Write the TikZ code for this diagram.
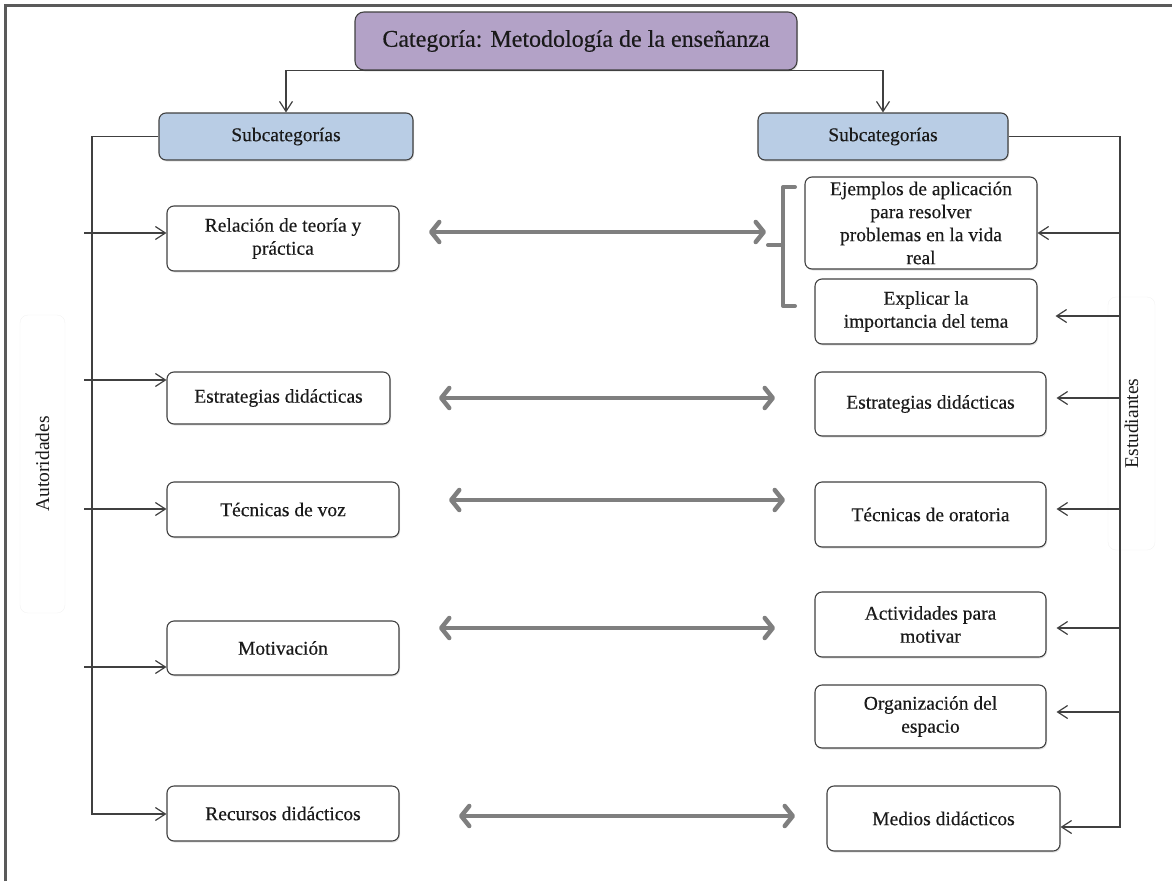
\documentclass[tikz,border=0pt]{standalone}
\usepackage{fontspec}
\setmainfont{Liberation Serif}
\newfontfamily\boxfont{Liberation Serif}[FakeBold=0.35]
\usetikzlibrary{arrows.meta,shadows,calc}
\definecolor{catfill}{HTML}{B3A2C7}
\definecolor{subfill}{HTML}{B9CDE5}
\definecolor{edge}{HTML}{404040}
\definecolor{link}{HTML}{7F7F7F}
\definecolor{ink}{HTML}{1A1A1A}
\definecolor{framec}{HTML}{5A5A5A}
\begin{document}
\begin{tikzpicture}[x=1pt,y=-1pt,
  box/.style={draw=edge, line width=1.1pt, rounded corners=7pt, fill=white,
    align=center, inner sep=0pt, text=ink,
    font=\boxfont\fontsize{19.5}{23}\selectfont,
    drop shadow={opacity=0.22, shadow xshift=1pt, shadow yshift=-1.5pt}},
  catbox/.style={box, fill=catfill, rounded corners=9pt, font=\boxfont\fontsize{24}{28}\selectfont},
  subbox/.style={box, fill=subfill},
  sidebox/.style={draw=black!5, rounded corners=8pt, rotate=90, inner sep=0pt,
    text=ink, font=\fontsize{19.5}{22}\selectfont},
  arr/.style={draw=edge, line width=1.2pt, -{Straight Barb[length=10pt,width=13pt]}},
  twoway/.style={draw=link, line width=4.5pt, line cap=round,
    {Straight Barb[length=8pt,width=20pt,round]}-{Straight Barb[length=8pt,width=20pt,round]}},
  brk/.style={draw=link, line width=4pt, line cap=round, line join=round},
  framel/.style={draw=framec, line width=3pt}
]
\useasboundingbox (0,0) rectangle (1172,881);

% outer frame (top and left edges)
\draw[framel] (5,881) -- (5,5) -- (1172,5);

% faint panels carrying the side labels
\node[sidebox, minimum width=298pt, minimum height=45pt] (autor) at (42.5,464) {Autoridades};
\node[sidebox, minimum width=253pt, minimum height=47pt] (estud) at (1131.5,423.5) {Estudiantes};

% category and subcategory headers
\node[catbox, minimum width=442pt, minimum height=58pt] (cat) at (576,41) {Categoría: Metodología de la enseñanza};
\node[subbox, minimum width=254pt, minimum height=47pt] (subL) at (286,136.5) {Subcategorías};
\node[subbox, minimum width=250pt, minimum height=47pt] (subR) at (883,136.5) {Subcategorías};

% left column
\node[box, minimum width=232pt, minimum height=65pt] (relacion) at (283,238.5) {Relación de teoría y\\práctica};
\node[box, minimum width=223pt, minimum height=52pt] (estL) at (278.5,398) {Estrategias didácticas};
\node[box, minimum width=232pt, minimum height=55pt] (tecvoz) at (283,509.5) {Técnicas de voz};
\node[box, minimum width=232pt, minimum height=54pt] (motiv) at (283,648) {Motivación};
\node[box, minimum width=232pt, minimum height=55pt] (recursos) at (283,813.5) {Recursos didácticos};

% right column
\node[box, minimum width=232pt, minimum height=92pt] (ejemplos) at (921,223) {Ejemplos de aplicación\\para resolver\\problemas en la vida\\real};
\node[box, minimum width=222pt, minimum height=65pt] (explicar) at (926,311.5) {Explicar la\\importancia del tema};
\node[box, minimum width=231pt, minimum height=64pt] (estR) at (930.5,404) {Estrategias didácticas};
\node[box, minimum width=231pt, minimum height=65pt] (tecor) at (930.5,514.5) {Técnicas de oratoria};
\node[box, minimum width=231pt, minimum height=65pt] (activ) at (930.5,624.5) {Actividades para\\motivar};
\node[box, minimum width=231pt, minimum height=63pt] (organ) at (930.5,716.5) {Organización del\\espacio};
\node[box, minimum width=233pt, minimum height=65pt] (medios) at (943.5,818.5) {Medios didácticos};

% category splits into both subcategory headers
\draw[arr] (cat.south) -| (subL.north);
\draw[arr] (cat.south) -| (subR.north);

% left trunk: header down to every left box
\coordinate (lTrunk) at (92,814);
\draw[arr] (subL.west) -| (lTrunk) -- (lTrunk -| recursos.west);
\coordinate (l1) at (84,233);
\coordinate (l2) at (84,380);
\coordinate (l3) at (84,509);
\coordinate (l4) at (84,667);
\draw[arr] (l1) -- (l1 -| relacion.west);
\draw[arr] (l2) -- (l2 -| estL.west);
\draw[arr] (l3) -- (l3 -| tecvoz.west);
\draw[arr] (l4) -- (l4 -| motiv.west);

% right trunk: header down to every right box
\coordinate (rTrunk) at (1120,827);
\draw[arr] (subR.east) -| (rTrunk) -- (rTrunk -| medios.east);
\coordinate (r1) at (1120,233);
\coordinate (r2) at (1120,316);
\coordinate (r3) at (1120,398);
\coordinate (r4) at (1120,509);
\coordinate (r5) at (1120,628);
\coordinate (r6) at (1120,712);
\draw[arr] (r1) -- (r1 -| ejemplos.east);
\draw[arr, shorten >=18pt] (r2) -- (r2 -| explicar.east);
\draw[arr, shorten >=10pt] (r3) -- (r3 -| estR.east);
\draw[arr, shorten >=10pt] (r4) -- (r4 -| tecor.east);
\draw[arr, shorten >=10pt] (r5) -- (r5 -| activ.east);
\draw[arr, shorten >=10pt] (r6) -- (r6 -| organ.east);

% bracket grouping the first two right boxes
\coordinate (bTop) at (795,187);
\coordinate (bBot) at (795,306);
\coordinate (bMid) at (783,245);
\draw[brk] (bTop) -- (783,187) -- (783,306) -- (bBot);
\draw[brk] (bMid) -- ++(-15,0);

% two-way correspondences between the columns
\coordinate (d1a) at (429,232);  \coordinate (d1b) at (766,232);
\coordinate (d2a) at (439,398);  \coordinate (d2b) at (775,398);
\coordinate (d3a) at (449,500);  \coordinate (d3b) at (785,500);
\coordinate (d4a) at (439,628);  \coordinate (d4b) at (775,628);
\coordinate (d5a) at (459,816);  \coordinate (d5b) at (795,816);
\draw[twoway] (d1a) -- (d1b);
\draw[twoway] (d2a) -- (d2b);
\draw[twoway] (d3a) -- (d3b);
\draw[twoway] (d4a) -- (d4b);
\draw[twoway] (d5a) -- (d5b);
\end{tikzpicture}
\end{document}
